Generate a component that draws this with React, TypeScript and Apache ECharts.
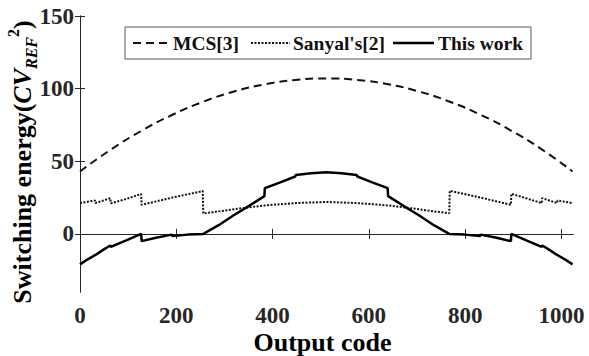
import React, { useEffect, useRef } from "react";
import * as echarts from "echarts";

const xTicks = [0, 200, 400, 600, 800, 1000];
const yTicks = [0, 50, 100, 150];

const seriesNames = ["MCS[3]", "Sanyal's[2]", "This work"];
const xTitle = "Output code";

const mcsCodes = [0, 64, 128, 192, 256, 320, 384, 448, 512, 576, 640, 704, 768, 832, 896, 960, 1023];
const mcsValues = [43, 58, 71, 82, 91, 98, 103, 106, 107, 106, 103, 98, 91, 82, 71, 58, 43];

const sanyalCodes = [0, 31, 32, 63, 64, 96, 127, 128, 192, 255, 256, 288, 320, 384, 448, 512,
  576, 640, 704, 736, 767, 768, 832, 895, 896, 927, 959, 960, 991, 992, 1023];
const sanyalValues = [21.2, 23, 21.2, 24.6, 21, 24, 27.5, 20, 25, 29.5, 14, 15.5, 17, 19.6, 21.2, 22,
  21.2, 19.6, 17, 15.5, 14.2, 29.7, 25, 20, 27.6, 24.5, 21.2, 24.6, 21.2, 23, 21.2];

const thisCodes = [0, 16, 32, 48, 63, 64, 96, 127, 128, 160, 191, 192, 224, 256, 288, 320, 352, 383, 384,
  416, 447, 448, 480, 512, 543, 575, 576, 607, 639, 640, 671, 703, 735, 767, 799, 831, 832, 863,
  895, 896, 927, 959, 960, 975, 991, 1007, 1023];
const thisValues = [-21, -17.5, -14.5, -11, -8, -9, -4.5, 0, -5, -2.5, -0.5, -1.5, -0.5, 0, 6, 13, 19.5, 26, 31.5,
  35.5, 39.5, 40.5, 41.8, 42.5, 41.8, 40.5, 39.5, 35.5, 31.5, 26, 19.5, 13, 6, 0, -0.5, -1.5, -0.5, -2.5,
  -5, 0, -4.5, -9, -8, -11, -14.5, -17.5, -21];

const zip = (xs: number[], ys: number[]) => xs.map((x, i) => [x, ys[i]]);

const FONT = "Liberation Serif";
const lineStyles = [
  { color: "#111", width: 2, type: [8, 5] as number[] },
  { color: "#111", width: 2, type: [2, 1.5] as number[] },
  { color: "#000", width: 2.5, type: null as number[] | null },
];

export default function App() {
  const ref = useRef<HTMLDivElement>(null);
  useEffect(() => {
    if (!ref.current) return;
    const chart = echarts.init(ref.current, null, { renderer: "svg" });
    const axisLine = { show: true, lineStyle: { color: "#262626", width: 1 } };
    const tick = { show: true, inside: true, length: 5, lineStyle: { color: "#262626", width: 1 } };
    const grid = { left: 80, right: 16, top: 16, bottom: 64 };
    chart.setOption({
      animation: false,
      backgroundColor: "#ffffff",
      grid: { ...grid, containLabel: false, outerBoundsMode: "none" },
      xAxis: [
        {
          type: "value", min: 0, max: 1024, axisLine,
          axisTick: { ...tick, customValues: xTicks },
          axisLabel: { show: false }, splitLine: { show: false },
        },
        {
          type: "value", position: "top", min: 0, max: 1024, axisLine,
          axisTick: { ...tick, customValues: xTicks },
          axisLabel: { show: false }, splitLine: { show: false },
        },
      ],
      yAxis: [
        {
          type: "value", min: -40, max: 150, axisLine,
          axisTick: { ...tick, customValues: yTicks },
          axisLabel: { show: false }, splitLine: { show: false },
        },
        {
          type: "value", position: "right", min: -40, max: 150, axisLine,
          axisTick: { ...tick, customValues: yTicks },
          axisLabel: { show: false }, splitLine: { show: false },
        },
      ],
      series: [
        {
          name: seriesNames[0], type: "line", data: zip(mcsCodes, mcsValues), smooth: true, symbol: "none",
          lineStyle: { color: lineStyles[0].color, width: lineStyles[0].width, type: lineStyles[0].type },
        },
        {
          name: seriesNames[1], type: "line", data: zip(sanyalCodes, sanyalValues), symbol: "none",
          lineStyle: { color: lineStyles[1].color, width: lineStyles[1].width, type: lineStyles[1].type },
        },
        {
          name: seriesNames[2], type: "line", data: zip(thisCodes, thisValues), symbol: "none",
          lineStyle: { color: lineStyles[2].color, width: lineStyles[2].width, type: "solid" },
        },
      ],
    });

    const gx = (v: number) => chart.convertToPixel({ xAxisIndex: 0 }, v) as number;
    const gy = (v: number) => chart.convertToPixel({ yAxisIndex: 0 }, v) as number;
    const bottomY = gy(-40);
    const leftX = gx(0);
    const rightX = gx(1024);
    const topY = gy(150);

    const labelStyle = { fontFamily: FONT, fontWeight: "bold", fontSize: 23, fill: "#262626" };
    const graphics: any[] = [];
    xTicks.forEach((v) => {
      graphics.push({
        type: "text", x: gx(v), y: bottomY + 23, silent: true,
        style: { ...labelStyle, text: String(v), align: "center", verticalAlign: "middle" },
      });
    });
    yTicks.forEach((v) => {
      graphics.push({
        type: "text", x: leftX - 6, y: gy(v), silent: true,
        style: { ...labelStyle, text: String(v), align: "right", verticalAlign: "middle" },
      });
    });
    graphics.push({
      type: "text", x: (leftX + rightX) / 2 - 4, y: bottomY + 50, silent: true,
      style: { fontFamily: FONT, fontWeight: "bold", fontSize: 26, fill: "#000", text: xTitle, align: "center", verticalAlign: "middle" },
    });
    graphics.push({
      type: "text", x: 22, y: (topY + bottomY) / 2 + 8, rotation: Math.PI / 2, silent: true,
      style: {
        text: "{a|Switching energy(}{b|CV}{c|REF}{d|2}{a|)}",
        align: "center", verticalAlign: "middle",
        rich: {
          a: { fontFamily: FONT, fontWeight: "bold", fontSize: 26, lineHeight: 34, fill: "#000" },
          b: { fontFamily: FONT, fontWeight: "bold", fontStyle: "italic", fontSize: 26, lineHeight: 34, fill: "#000" },
          c: { fontFamily: FONT, fontWeight: "bold", fontStyle: "italic", fontSize: 16, lineHeight: 16, verticalAlign: "bottom", fill: "#000" },
          d: { fontFamily: FONT, fontWeight: "bold", fontSize: 16, lineHeight: 18, verticalAlign: "top", fill: "#000" },
        },
      },
    });

    // legend box
    const lgX = leftX + 45;
    const lgY = topY + 11;
    const lgItems = [
      { lineFrom: 8, lineTo: 42, textX: 48 },
      { lineFrom: 126, lineTo: 165, textX: 168 },
      { lineFrom: 268, lineTo: 309, textX: 313 },
    ];
    const legendChildren: any[] = [
      { type: "rect", shape: { x: 0, y: 0, width: 406, height: 32 }, style: { fill: "#fff", stroke: "#555", lineWidth: 1 } },
    ];
    seriesNames.forEach((name, i) => {
      const it = lgItems[i];
      const ls = lineStyles[i];
      legendChildren.push({
        type: "line",
        shape: { x1: it.lineFrom, y1: 16, x2: it.lineTo, y2: 16 },
        style: { stroke: ls.color, lineWidth: ls.width, lineDash: ls.type || undefined },
      });
      legendChildren.push({
        type: "text", x: it.textX, y: 16,
        style: { text: name, fontFamily: FONT, fontWeight: "bold", fontSize: 19.5, fill: "#111", align: "left", verticalAlign: "middle" },
      });
    });
    graphics.push({ type: "group", x: lgX, y: lgY, silent: true, children: legendChildren });

    chart.setOption({ graphic: graphics });
    return () => chart.dispose();
  }, []);
  return (
    <div
      ref={ref}
      style={{ position: "absolute", left: 0, top: 0, width: 589, height: 356, background: "#fff" }}
    />
  );
}
